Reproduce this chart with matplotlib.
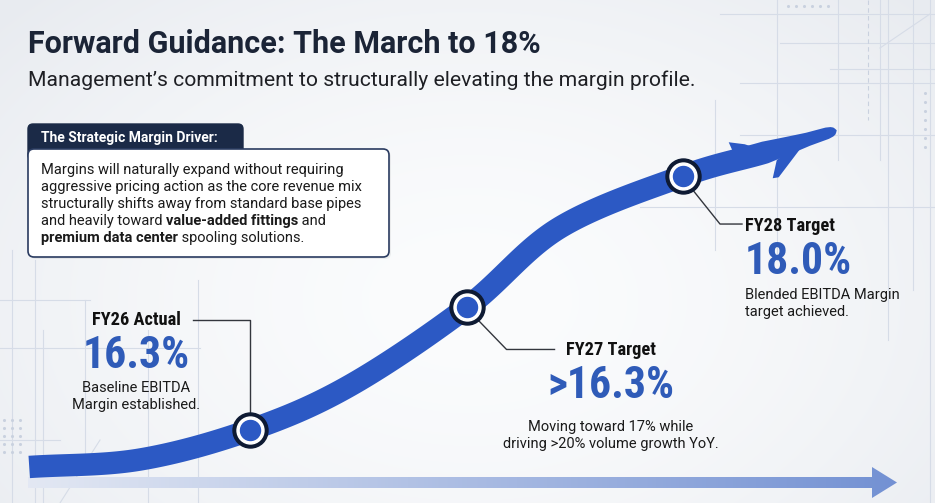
import numpy as np
import matplotlib
matplotlib.use('Agg')
import matplotlib.pyplot as plt
from matplotlib import font_manager as fm
from matplotlib.patches import FancyBboxPatch, Polygon
from matplotlib.colors import to_rgb

# ---------------- data ----------------
title = 'Forward Guidance: The March to 18%'
subtitle = 'Management\u2019s commitment to structurally elevating the margin profile.'
box_title = 'The Strategic Margin Driver:'
box_lines = [
    [('Margins will naturally expand without requiring', False)],
    [('aggressive pricing action as the core revenue mix', False)],
    [('structurally shifts away from standard base pipes', False)],
    [('and heavily toward ', False), ('value-added fittings', True), (' and', False)],
    [('premium data center', True), (' spooling solutions.', False)],
]
milestone_labels = ['FY26 Actual', 'FY27 Target', 'FY28 Target']
milestone_years = [2026, 2027, 2028]
milestone_margin = [16.3, 17.13, 18.02]        # plotted level (%), FY27
milestone_value_text = ['16.3%', '>16.3%', '18.0%']
milestone_notes = [['Baseline EBITDA', 'Margin established.'],
                   ['Moving toward 17% while', 'driving >20% volume growth YoY.'],
                   ['Blended EBITDA Margin', 'target achieved.']]
trajectory_years = [2024.98, 2025.49, 2026.0, 2026.46, 2027.0, 2027.43, 2028.0, 2028.38, 2028.71]
trajectory_margin = [16.05, 16.10, 16.3, 16.6, 17.13, 17.67, 18.02, 18.18, 18.33]

# ---------------- fonts ----------------
names = {f.name for f in fm.fontManager.ttflist}
BASE = 'Roboto' if 'Roboto' in names else 'DejaVu Sans'
if 'Roboto Condensed' in names:
    COND = 'Roboto Condensed'; cscale = 1.0
elif 'Liberation Sans Narrow' in names:
    COND = 'Liberation Sans Narrow'; cscale = 1.0
else:
    COND = BASE; cscale = 0.88

BLUE = '#2C59C4'
VAL_BLUE = '#2F5BB8'
NAVY = '#0E1A33'
INK = '#1B2436'

fig = plt.figure(figsize=(9.35, 5.03), dpi=100)
bg = fig.add_axes([0, 0, 1, 1])
bg.axis('off')

# background radial gradient
yy, xx = np.mgrid[0:503, 0:935]
d = np.sqrt(((xx - 470) / 640.0) ** 2 + ((yy - 300) / 430.0) ** 2)
t = np.clip(d, 0, 1) ** 1.6
c0 = np.array(to_rgb('#FBFCFD')); c1 = np.array(to_rgb('#E8EBF0'))
img = c0 * (1 - t[..., None]) + c1 * t[..., None]
bg.imshow(img, extent=(0, 935, 503, 0), zorder=0, aspect='auto', interpolation='bilinear')
bg.set_xlim(0, 935); bg.set_ylim(503, 0)

# faint blueprint grid decoration
gcol = '#D6DCE7'
for x, y0, y1 in [(12, 250, 503), (35, 260, 503), (43, 330, 503), (85, 300, 470), (148, 330, 503),
                  (198, 280, 503), (715, 100, 250), (777, 0, 260), (838, 0, 160), (880, 0, 160),
                  (888, 0, 340), (913, 0, 290), (930, 0, 503)]:
    bg.plot([x, x], [y0, y1], color=gcol, lw=0.8, zorder=1)
for y, x0, x1 in [(14, 720, 935), (43, 780, 935), (69, 830, 935), (83, 740, 935), (135, 740, 935),
                  (207, 640, 935), (348, 0, 200), (300, 0, 90), (440, 0, 60)]:
    bg.plot([x0, x1], [y, y], color=gcol, lw=0.8, zorder=1)
bg.plot([868, 868], [0, 120], color='#C9D1DF', lw=0.8, ls=(0, (4, 3)), zorder=1)
bg.plot([880, 930], [48, 14], color=gcol, lw=0.8, zorder=1)
bg.plot([60, 100], [503, 440], color=gcol, lw=0.8, zorder=1)
for dx in (4, 12, 20):
    bg.scatter([dx] * 5, np.arange(420, 460, 8), s=1.5, color='#C9D1DF', zorder=1)
bg.scatter([925] * 7, np.arange(93, 152, 9), s=1.5, color='#C9D1DF', zorder=1)
bg.scatter(np.arange(788, 835, 8), [6] * 6, s=1.5, color='#C9D1DF', zorder=1)

# titles
bg.text(28, 53, title, fontsize=22, fontweight='bold', color=INK, family=BASE, va='baseline', zorder=5)
bg.text(28, 86, subtitle, fontsize=15.25, color='#1E1F24', family=BASE, va='baseline', zorder=5)

# info box
bg.add_patch(FancyBboxPatch((30, 151), 361, 108, boxstyle='round,pad=0,rounding_size=6',
                            fc='#000000', ec='none', alpha=0.06, zorder=2))
bg.add_patch(FancyBboxPatch((28, 124), 215, 36, boxstyle='round,pad=0,rounding_size=5',
                            fc='#1B2A47', ec='#1B2A47', lw=1, zorder=3))
bg.add_patch(FancyBboxPatch((28, 149), 361, 108, boxstyle='round,pad=0,rounding_size=6',
                            fc='white', ec='#2A3B60', lw=1.2, zorder=4))
bg.text(41, 142, box_title, fontsize=10, fontweight='bold', color='white', family=BASE,
        va='baseline', zorder=5)
for i, segs in enumerate(box_lines):
    y = 174 + 17 * i
    prev = None
    for txt, bold in segs:
        kw = dict(fontsize=10.5, color='#1A1A1A', family=BASE, fontweight='bold' if bold else 'normal', zorder=5)
        if prev is None:
            prev = bg.text(41, y, txt, va='baseline', **kw)
        else:
            prev = bg.annotate(txt, xy=(1, 0), xycoords=prev, ha='left', va='bottom', **kw)

# data axes (fiscal year vs margin %)
ax = fig.add_axes([0, 0, 1, 1])
ax.set_xlim(2024.845, 2029.164)
ax.set_ylim(15.806, 19.212)
ax.axis('off')
ax.patch.set_alpha(0)


def to_px(xs, ys):
    pts = ax.transData.transform(np.column_stack([xs, ys]))
    return bg.transData.inverted().transform(pts)


def catmull(P, n=60):
    P = np.asarray(P, float)
    ext = np.vstack([2 * P[0] - P[1], P, 2 * P[-1] - P[-2]])
    out = []
    tt = np.linspace(0, 1, n, endpoint=False)[:, None]
    for i in range(1, len(ext) - 2):
        p0, p1, p2, p3 = ext[i - 1], ext[i], ext[i + 1], ext[i + 2]
        out.append(0.5 * (2 * p1 + (-p0 + p2) * tt + (2 * p0 - 5 * p1 + 4 * p2 - p3) * tt ** 2
                          + (-p0 + 3 * p1 - 3 * p2 + p3) * tt ** 3))
    out.append(P[-1][None])
    return np.vstack(out)


# bottom time arrow with gradient
arrow_poly = [(28, 477), (872, 477), (872, 467), (897, 482.5), (872, 498), (872, 488), (28, 488)]
ap = Polygon(arrow_poly, closed=True, fc='none', ec='none', zorder=2)
bg.add_patch(ap)
gx = np.linspace(0, 1, 256)
ca = np.array(to_rgb('#E3E8F3')); cb = np.array(to_rgb('#7391D3'))
grad = (ca * (1 - gx[:, None]) + cb * gx[:, None])[None, :, :]
gim = bg.imshow(grad, extent=(28, 897, 498, 467), aspect='auto', zorder=2, interpolation='bilinear')
gim.set_clip_path(ap)
bg.set_xlim(0, 935); bg.set_ylim(503, 0)

# trajectory band (plane)
P = to_px(trajectory_years, trajectory_margin)
C = catmull(P)
seg = np.diff(C, axis=0)
s = np.concatenate([[0], np.cumsum(np.hypot(seg[:, 0], seg[:, 1]))])
tg = np.gradient(C, axis=0)
tg /= np.hypot(tg[:, 0], tg[:, 1])[:, None]
nrm = np.column_stack([-tg[:, 1], tg[:, 0]])
s_end = s[-1] - s
hw = np.interp(s_end, [0, 2, 5, 10, 30, 75, 1e9], [0, 3.4, 4.9, 5.9, 6.8, 11.2, 11.2])
upper = C + nrm * hw[:, None]
lower = C - nrm * hw[:, None]
bg.add_patch(Polygon(np.vstack([upper, lower[::-1]]), closed=True, fc=BLUE, ec='none', zorder=3))
nose = C[-1]
fin = [(-104, 21), (-108, 12), (-92, 14), (-80, 18)]
wing = [(-60, 30), (-64, 48), (-58, 47), (-33, 14), (-45, 18)]
for shape in (fin, wing):
    bg.add_patch(Polygon([(nose[0] + a, nose[1] + b) for a, b in shape], closed=True,
                         fc=BLUE, ec='none', zorder=3))

# milestone markers
ax.plot(milestone_years, milestone_margin, 'o', ms=25.2, color=NAVY, zorder=6)
ax.plot(milestone_years, milestone_margin, 'o', ms=19.4, color='white', zorder=7)
ax.plot(milestone_years, milestone_margin, 'o', ms=14.4, color=BLUE, zorder=8)

M = to_px(milestone_years, milestone_margin)
lc = '#33363D'
(m1x, m1y), (m2x, m2y), (m3x, m3y) = M
bg.plot([m1x, m1x, m1x - 57], [m1y - 17, m1y - 110, m1y - 110], color=lc, lw=1.0, zorder=2)
bg.plot([m2x + 11, m2x + 40, m2x + 88], [m2y + 12, m2y + 42, m2y + 42], color=lc, lw=1.0, zorder=2)
bg.plot([m3x + 9, m3x + 37, m3x + 59], [m3y + 13, m3y + 48, m3y + 48], color=lc, lw=1.0, zorder=2)

lab_fs = 13.2 * cscale
val_fs = 31.5 * cscale
note_fs = 10.5
layout = [  # (x, ha, label baseline, value baseline, note baseline)
    (m1x - 114, 'center', m1y - 105, m1y - 62, m1y - 38),
    (m2x + 144, 'center', m2y + 48, m2y + 91, m2y + 124),
    (m3x + 62, 'left', m3y + 55, m3y + 98, m3y + 123),
]
for i, (x, ha, yl, yv, yn) in enumerate(layout):
    bg.text(x, yl, milestone_labels[i], fontsize=lab_fs, fontweight='bold', color='#111111',
            family=COND, ha=ha, va='baseline', zorder=5)
    bg.text(x, yv, milestone_value_text[i], fontsize=val_fs, fontweight='bold', color=VAL_BLUE,
            family=COND, ha=ha, va='baseline', zorder=5)
    for j, line in enumerate(milestone_notes[i]):
        bg.text(x, yn + 17 * j, line, fontsize=note_fs, color='#1A1A1A', family=BASE,
                ha=ha, va='baseline', zorder=5)

fig.savefig('out.png', dpi=100)
